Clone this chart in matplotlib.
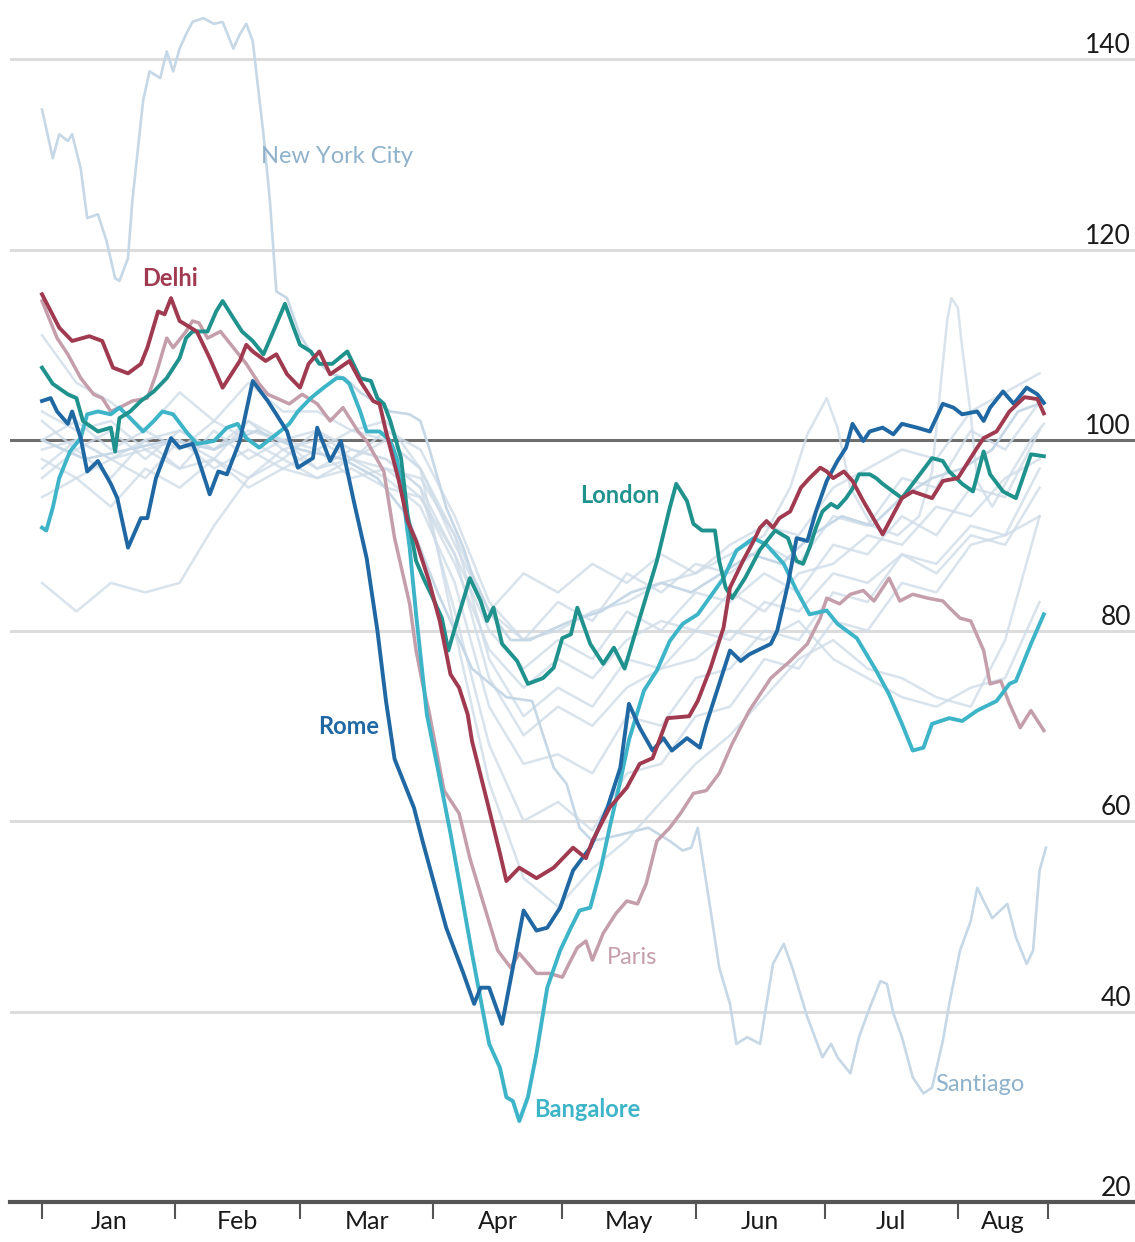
import matplotlib.pyplot as plt

# ---- data (x = days since 1 Jan, y = index) ----
delhi_d = [0, 4, 7, 11, 14, 16.5, 20, 23, 24.5, 27, 28.5, 30, 32, 36, 39, 42, 46, 47.5, 49, 52,
           54.5, 57, 60, 62, 64.5, 67, 71.5, 74, 77, 78.5, 80, 83, 85, 87, 90, 92.5, 95, 97, 99, 100,
           103.5, 106.5, 108, 111, 115, 119, 123.5, 126.5, 128, 132, 136, 139, 142, 145.5, 150.5, 152.5,
           155.5, 158.5, 160, 163, 165.5, 167, 168.5, 170, 171.5, 174, 176.5, 178.5, 181, 182.5, 184,
           186.5, 188.5, 191, 195.5, 200, 202.5, 207, 209.5, 213, 217.5, 219, 222, 225, 228.5, 231.5, 233]
delhi_v = [115.3, 111.8, 110.4, 110.9, 110.4, 107.6, 107.0, 108.0, 109.7, 113.5, 113.2, 114.9, 112.5,
           111.4, 108.6, 105.5, 108.3, 110.0, 109.3, 108.3, 109.0, 106.9, 105.5, 108.0, 109.3, 106.9,
           108.3, 106.2, 104.1, 103.8, 100.9, 95.7, 91.5, 89.4, 85.2, 81.0, 75.4, 74.0, 71.2, 68.4,
           62.1, 56.6, 53.7, 55.1, 54.0, 55.1, 57.2, 56.1, 57.9, 61.4, 63.5, 66.0, 66.6, 70.8, 71.0,
           72.6, 76.1, 80.3, 84.5, 87.3, 89.4, 90.8, 91.5, 90.8, 91.8, 92.5, 95.0, 96.0, 97.1, 96.7,
           96.0, 96.7, 95.7, 93.6, 90.1, 93.9, 94.6, 93.9, 95.7, 96.0, 99.2, 100.2, 100.9, 103.0,
           104.5, 104.3, 102.8]

rome_d = [0, 2, 3.5, 6, 7, 9, 10.5, 13, 16, 17.5, 20, 23, 24.5, 26.5, 30, 32, 35, 36, 39, 41, 43,
          46, 49, 52.5, 54.5, 57, 59.5, 63, 64, 67, 69.5, 72.5, 75.5, 78, 80, 82, 86.5, 88.5, 94, 98,
          100.5, 102, 104, 107, 109.5, 112, 115, 117.5, 120.5, 123.5, 127.5, 131.5, 134.5, 136.5,
          139, 142, 144.5, 146.5, 150, 153, 154.5, 160, 162.5, 164.5, 169.5, 171, 173.5, 175.5, 178,
          180, 182.5, 185, 187, 188.5, 191, 192.5, 195.5, 198, 200, 203.5, 206.5, 209.5, 212, 214,
          217.5, 219, 220.5, 223.5, 226, 229, 231.5, 233]
rome_v = [104.1, 104.4, 103.0, 101.7, 103.0, 100.2, 96.7, 97.8, 95.4, 93.9, 88.7, 91.8, 91.8, 96.0,
          100.2, 99.2, 99.6, 98.5, 94.3, 96.7, 96.4, 99.9, 106.2, 104.1, 102.7, 100.9, 97.1, 98.1,
          101.3, 97.8, 99.9, 93.6, 87.6, 80.0, 72.6, 66.5, 61.4, 57.9, 48.8, 44.0, 40.8, 42.5, 42.5,
          38.7, 44.6, 50.6, 48.5, 48.8, 50.9, 54.8, 57.2, 61.4, 65.6, 72.3, 69.8, 67.4, 68.7, 67.4,
          68.7, 67.7, 70.2, 77.9, 76.8, 77.5, 78.6, 80.0, 84.9, 89.7, 89.4, 92.5, 95.7, 97.8, 99.2,
          101.7, 99.9, 100.9, 101.3, 100.6, 101.7, 101.3, 100.9, 103.8, 103.4, 102.7, 103.0, 102.0,
          103.4, 105.1, 103.8, 105.5, 104.8, 103.9]

london_d = [0, 2.5, 6, 8, 9.5, 13, 16, 17, 18, 20.5, 23, 26, 29, 32, 33.5, 35, 38.5, 40.5, 42, 44.5,
            46.5, 49, 51.5, 53.5, 56.5, 58.5, 60, 62.5, 64.5, 67.5, 71, 74, 76.5, 78, 79.5, 81, 83.5,
            85, 87, 89, 90.5, 93, 94.5, 96.5, 99.5, 102, 103.5, 105, 107, 110.5, 113, 116.5, 119,
            121, 123, 124.5, 127.5, 130.5, 133, 135.5, 139, 143, 146, 147.5, 150, 151.5, 153.5,
            156.5, 157.5, 159, 160.5, 163.5, 167, 170.5, 173.5, 174.5, 175.5, 177, 178.5, 180, 181.5,
            183.5, 185, 187, 188.5, 190, 192.5, 194, 195.5, 200, 203.5, 207, 209.5, 211, 214, 216.5,
            219, 220.5, 223.5, 226.5, 230, 233]
london_v = [107.6, 105.9, 104.8, 104.4, 102.0, 100.9, 101.3, 98.8, 102.3, 103.0, 104.1, 105.1, 106.5,
            108.6, 110.7, 111.4, 111.4, 113.5, 114.6, 112.8, 111.4, 110.4, 109.0, 111.1, 114.3,
            111.8, 110.0, 109.3, 108.0, 108.0, 109.3, 106.5, 106.2, 104.4, 103.8, 102.0, 98.1, 92.2,
            87.3, 85.2, 83.8, 81.3, 77.9, 81.0, 85.5, 83.1, 81.0, 82.4, 78.6, 76.8, 74.4, 75.0, 76.1,
            79.2, 79.6, 82.4, 78.6, 76.5, 78.2, 76.0, 81.3, 87.3, 92.9, 95.4, 93.6, 91.2, 90.5, 90.5,
            87.3, 84.5, 83.4, 85.5, 88.5, 90.5, 89.7, 88.4, 87.3, 87.0, 88.7, 90.8, 92.5, 93.3, 92.9,
            93.9, 94.9, 96.4, 96.4, 96.0, 95.4, 93.9, 96.0, 98.1, 97.8, 96.7, 95.4, 94.6, 98.8, 96.4,
            94.6, 93.9, 98.5, 98.3]

bangalore_d = [0, 1, 2.5, 4, 6.5, 9, 10.5, 13, 16, 18, 20.5, 23.5, 26, 28, 30.5, 33.5, 36, 40, 43,
               45.5, 47.5, 50.5, 54.5, 57.5, 59.5, 62.5, 65.5, 68.5, 70, 71.5, 74, 75.5, 78.5, 81,
               82.5, 84, 85.5, 87, 89.5, 92, 95, 97, 100, 102.5, 104, 106.5, 108, 109.5, 111, 113,
               115, 117.5, 120.5, 123, 125, 127.5, 130, 132, 134.5, 136.5, 140, 143, 146, 149, 152.5,
               155.5, 158.5, 161.5, 165.5, 168.5, 172.5, 175.5, 178.5, 182.5, 185, 189.5, 194, 197,
               200, 202.5, 205, 207, 211, 214, 217.5, 222, 225, 226.5, 230, 233]
bangalore_v = [90.8, 90.5, 92.9, 96.0, 98.8, 100.2, 102.7, 103.0, 102.7, 103.4, 102.3, 100.9, 102.0,
               103.0, 102.7, 100.9, 99.6, 99.9, 101.3, 101.7, 100.2, 99.2, 100.6, 101.7, 103.0,
               104.4, 105.5, 106.5, 106.5, 105.9, 103.0, 100.9, 100.9, 99.9, 98.1, 93.9, 88.7, 81.7,
               71.2, 65.6, 58.7, 53.7, 46.1, 40.1, 36.6, 34.1, 31.0, 30.6, 28.5, 31.0, 35.6, 42.5,
               46.4, 48.8, 50.6, 50.9, 55.1, 59.3, 64.2, 68.5, 73.7, 75.8, 78.9, 80.7, 81.7, 83.6,
               85.5, 88.4, 89.7, 89.0, 87.0, 84.2, 81.7, 82.1, 80.7, 79.2, 75.8, 73.3, 70.2, 67.4,
               67.7, 70.2, 70.8, 70.5, 71.6, 72.6, 74.4, 74.7, 78.6, 81.7]

paris_d = [0, 3.5, 6, 9, 12, 14, 16, 18, 21, 24.5, 26.5, 29, 30.5, 33.5, 35, 36.5, 38.5, 41.5, 44.5,
           47.5, 50.5, 52.5, 54.5, 57.5, 60.5, 64, 67, 70, 73.5, 75.5, 79.5, 82, 85.5, 87, 88.5, 90,
           93.5, 97, 99.5, 102.5, 106, 109, 111, 115, 118, 121, 123, 124.5, 126.5, 128, 130.5, 133.5,
           136, 138.5, 140.5, 143, 146, 148.5, 151.5, 154.5, 157.5, 160.5, 164.5, 169.5, 174, 178,
           181, 182.5, 185.5, 188, 191, 193.5, 197, 199.5, 202.5, 206, 209.5, 211, 213.5, 216,
           219, 220.5, 223, 225, 227.5, 230, 233]
paris_v = [114.6, 110.7, 109.0, 106.5, 104.8, 104.4, 103.0, 103.4, 104.1, 104.4, 106.9, 110.7, 109.7,
           111.4, 112.5, 112.3, 110.7, 111.4, 109.7, 108.0, 105.9, 104.8, 104.4, 103.8, 104.8,
           103.8, 102.0, 103.4, 100.9, 99.9, 96.7, 89.7, 82.8, 77.9, 74.4, 71.5, 63.2, 60.8, 56.1,
           51.6, 46.4, 44.6, 46.1, 44.0, 44.0, 43.6, 45.4, 46.7, 47.4, 45.4, 48.2, 50.3, 51.6, 51.3,
           53.4, 57.9, 59.3, 60.8, 62.9, 63.2, 65.0, 68.1, 71.6, 75.0, 76.8, 78.6, 81.3, 83.4, 82.8,
           83.8, 84.2, 83.1, 85.5, 83.1, 83.8, 83.4, 83.1, 82.4, 81.3, 81.0, 77.9, 74.4, 74.7, 72.3,
           69.8, 71.6, 69.5]

nyc_d = [0, 2.5, 4, 6, 7, 9, 10.5, 13, 15, 17, 18, 20, 21, 23.5, 25, 27.5, 29, 30.5, 32, 33.5, 35,
         37.5, 40, 42, 44.5, 46, 47.5, 49, 51.5, 53, 54.5, 57, 60, 63.5, 67, 70.5, 74, 77.5, 81, 85.5,
         88, 90, 94, 98, 100, 104, 109, 113.5, 118, 123, 130, 137, 144, 151, 158, 165, 172, 179,
         186, 193, 200, 207, 214, 221, 227, 233]
nyc_v = [134.7, 129.6, 132.1, 131.4, 132.1, 128.5, 123.3, 123.7, 120.9, 117.0, 116.7, 119.1, 125.1,
         135.6, 138.7, 138.0, 140.8, 138.7, 141.1, 142.6, 143.9, 144.3, 143.7, 143.9, 141.1, 142.6,
         143.7, 141.9, 132.1, 125.1, 115.6, 114.9, 111.0, 108.5, 107.0, 106.5, 105.0, 104.0, 103.0,
         102.7, 102.0, 99.2, 92.9, 88.7, 85.9, 82.0, 79.0, 79.0, 80.0, 81.0, 82.0, 84.0, 85.0, 84.0,
         86.0, 88.0, 87.0, 90.0, 92.0, 91.0, 94.0, 96.0, 97.0, 99.0, 103.0, 104.0]

santiago_d = [0, 10, 20, 30, 40, 50, 60, 70, 78, 85, 92, 100, 108, 114, 119, 122, 125, 128, 134, 141,
              146, 149, 151, 152.5, 155.5, 157.5, 160, 161.5, 164, 167, 168.5, 170, 172.5, 174.5, 178,
              181.5, 183.5, 185, 188, 190, 192.5, 195, 196.5, 198, 200, 202.5, 205, 207, 209.5, 211,
              213.5, 216, 217.5, 219, 221, 224.5, 226.5, 229, 230.5, 232, 233.5]
santiago_v = [100, 98, 99, 100, 99, 101, 99, 98, 96, 92, 84, 76, 73, 72.6, 65.6, 63.9, 59.3, 57.9,
              58.5, 59.3, 57.9, 56.9, 57.2, 59.3, 50.6, 44.6, 40.8, 36.6, 37.3, 36.6, 40.8, 45.0, 47.1,
              44.6, 39.4, 35.2, 36.6, 35.2, 33.5, 37.3, 40.4, 43.2, 42.9, 39.8, 37.3, 33.1, 31.4, 32.0,
              36.9, 40.8, 46.4, 49.5, 53.0, 51.6, 49.8, 51.3, 47.8, 45.0, 46.4, 54.8, 57.2]

spike_d = [0, 8, 16, 24, 32, 40, 48, 56, 64, 72, 80, 88, 96, 104, 112, 120, 128, 136, 144, 152, 160,
           168, 174, 178, 182.5, 185, 188, 193, 199, 204, 207, 210.5, 211.5, 213, 214, 216, 217.5,
           221, 226, 230, 233]
spike_v = [99, 100, 98, 100, 101, 99, 101, 100, 99, 101, 100, 97, 90, 82, 79, 80, 82, 83, 85, 86, 88,
           90, 95, 100.6, 104.4, 101.3, 95, 91, 90, 92, 96.7, 112.5, 114.9, 113.9, 109.7, 102.7, 95.7,
           93, 97, 100, 101.7]

# other cities, sampled every 8 days
bg_days = list(range(0, 233, 8))
bg_series = [
    [111, 106, 104, 101, 105, 102, 106, 103, 103, 101, 102, 97, 89, 82, 86, 84, 87, 85, 88, 86, 89, 91, 90, 95, 97, 99, 98, 103, 105, 107],
    [102, 99, 101, 98, 101, 99, 102, 99, 100, 98, 101, 99, 92, 83, 79, 83, 81, 86, 84, 87, 86, 89, 87, 92, 91, 96, 95, 101, 99, 104],
    [98, 96, 98, 96, 100, 97, 99, 97, 99, 96, 97, 94, 88, 80, 76, 79, 77, 82, 80, 84, 83, 86, 84, 89, 88, 92, 90, 95, 94, 101],
    [96, 99, 96, 100, 97, 98, 96, 99, 97, 98, 97, 96, 90, 77, 71, 74, 72, 77, 76, 80, 79, 83, 82, 86, 85, 88, 87, 91, 90, 92],
    [94, 96, 93, 97, 95, 98, 95, 97, 96, 98, 96, 93, 85, 72, 66, 67, 65, 71, 70, 75, 76, 80, 79, 84, 83, 88, 86, 90, 89, 95],
    [100, 102, 99, 101, 99, 102, 100, 98, 101, 99, 98, 95, 82, 68, 60, 62, 59, 65, 66, 71, 72, 77, 76, 81, 80, 85, 84, 89, 90, 97],
    [103, 101, 102, 99, 100, 98, 102, 100, 101, 98, 100, 97, 80, 64, 54, 51, 55, 58, 62, 66, 69, 73, 77, 79, 76, 75, 73, 72, 79, 92],
    [85, 82, 85, 84, 85, 91, 96, 98, 96, 97, 95, 94, 87, 78, 74, 77, 75, 79, 81, 80, 84, 82, 86, 87, 90, 89, 93, 92, 96, 98],
    [97, 100, 98, 99, 97, 101, 98, 100, 97, 99, 98, 95, 88, 75, 69, 72, 70, 74, 76, 77, 80, 79, 81, 77, 75, 73, 72, 74, 75, 83],
]

month_edges = [0, 31, 60, 91, 121, 152, 182, 213, 234]
months = ['Jan', 'Feb', 'Mar', 'Apr', 'May', 'Jun', 'Jul', 'Aug']
yticks = [20, 40, 60, 80, 100, 120, 140]

# ---- colours ----
c_delhi = '#a03a50'
c_rome = '#1f68a3'
c_london = '#20928d'
c_bang = '#3db4c8'
c_paris = '#c49eab'
c_light = '#cfdce8'
c_light_txt = '#8fb2cb'

tick_font = ['Liberation Sans Narrow', 'DejaVu Sans Condensed', 'Lato']
lab_font = ['Lato', 'DejaVu Sans']

W, H = 1135, 1242
fig = plt.figure(figsize=(W / 100, H / 100), dpi=100)
ax = fig.add_axes([10 / W, 40 / H, 1125 / W, 1202 / H])
ax.set_xlim(-7.45, 254.2)
ax.set_ylim(20, 146.2)

for s in ['top', 'right', 'left']:
    ax.spines[s].set_visible(False)
ax.spines['bottom'].set_color('#555555')
ax.spines['bottom'].set_linewidth(3)

for v in yticks[1:]:
    if v == 100:
        ax.axhline(v, color='#6e6e6e', lw=2.2, zorder=1)
    else:
        ax.axhline(v, color='#dcdcdc', lw=2.2, zorder=1)

ytrans = ax.get_yaxis_transform()
for v in yticks:
    ax.text(0.9965, v + 0.6, str(v), transform=ytrans, ha='right', va='baseline',
            fontsize=19, color='#1a1a1a', family=tick_font)

# background cities
for vals in bg_series:
    ax.plot(bg_days, vals, color=c_light, lw=1.8, alpha=0.8, zorder=2)
ax.plot(spike_d, spike_v, color=c_light, lw=1.8, alpha=0.8, zorder=2)
ax.plot(nyc_d, nyc_v, color='#c6d7e6', lw=1.9, zorder=2)
ax.plot(santiago_d, santiago_v, color='#c6d7e6', lw=1.9, zorder=2)

# highlighted cities
ax.plot(paris_d, paris_v, color=c_paris, lw=2.5, zorder=3)
ax.plot(bangalore_d, bangalore_v, color=c_bang, lw=2.8, zorder=4)
ax.plot(london_d, london_v, color=c_london, lw=2.8, zorder=5)
ax.plot(rome_d, rome_v, color=c_rome, lw=2.8, zorder=6)
ax.plot(delhi_d, delhi_v, color=c_delhi, lw=2.8, zorder=7)

# ticks
ax.set_yticks([])
ax.set_xticks(month_edges)
ax.set_xticklabels([])
mids = [(a + b) / 2 for a, b in zip(month_edges[:-1], month_edges[1:])]
ax.set_xticks(mids, minor=True)
ax.set_xticklabels(months, minor=True, fontsize=18, color='#1a1a1a', family=tick_font)
ax.tick_params(axis='x', which='major', length=12, width=1.5, color='#555555', direction='out')
ax.tick_params(axis='x', which='minor', length=0, pad=6)

# labels
ax.text(29.8, 117.0, 'Delhi', color=c_delhi, fontsize=17, fontweight='bold', ha='center', va='center', family=lab_font)
ax.text(134.4, 94.2, 'London', color=c_london, fontsize=17, fontweight='bold', ha='center', va='center', family=lab_font)
ax.text(71.4, 69.9, 'Rome', color=c_rome, fontsize=17, fontweight='bold', ha='center', va='center', family=lab_font)
ax.text(126.7, 29.7, 'Bangalore', color=c_bang, fontsize=17, fontweight='bold', ha='center', va='center', family=lab_font)
ax.text(137.2, 45.7, 'Paris', color=c_paris, fontsize=17, ha='center', va='center', family=lab_font)
ax.text(68.6, 129.8, 'New York City', color=c_light_txt, fontsize=17, ha='center', va='center', family=lab_font)
ax.text(218.1, 32.3, 'Santiago', color=c_light_txt, fontsize=17, ha='center', va='center', family=lab_font)

fig.savefig('out.png', dpi=100)
